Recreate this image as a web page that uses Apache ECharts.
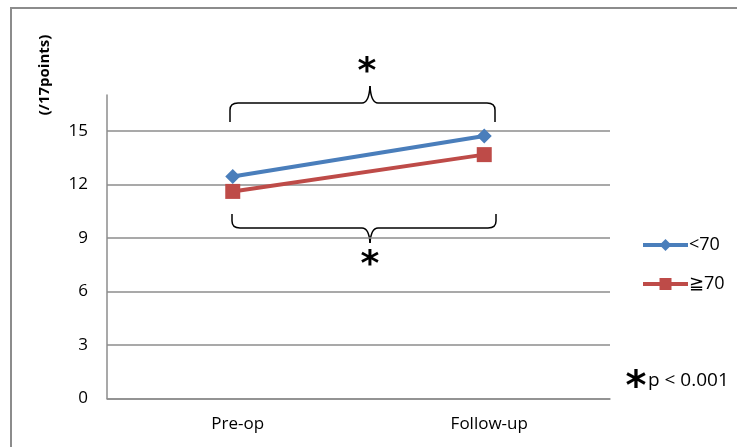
<!DOCTYPE html>
<html>
<head>
<meta charset="utf-8">
<script src="https://cdn.jsdelivr.net/npm/echarts@6/dist/echarts.min.js"></script>
<style>html,body{margin:0;padding:0;background:#fff}#c{width:737px;height:447px}</style>
</head>
<body>
<div id="c"></div>
<script>
var categories = ['Pre-op', 'Follow-up'];
var under70 = [12.43, 14.70];
var over70 = [11.6, 13.66];
var seriesNames = ['<70', '≧70'];
var yTicks = [0, 3, 6, 9, 12, 15];

var FONT = '"Open Sans", "Noto Sans", sans-serif';
var chart = echarts.init(document.getElementById('c'), null, {renderer: 'canvas'});

var gridLines = yTicks.map(function (v) { return {yAxis: v}; });

// curly brace: x1..x2 span, cx = tip x, yEnd = y of the ends, yMid = horizontal line, yTip = central point
function brace(x1, x2, cx, yEnd, yMid, yTip) {
  var st = {stroke: '#000', lineWidth: 1.5, fill: null};
  var d = yMid < yEnd ? 1 : -1;
  var els = [];
  els.push({type: 'line', shape: {x1: x1, y1: yEnd, x2: x1, y2: yMid + d * 7}, style: st});
  els.push({type: 'bezierCurve', shape: {x1: x1, y1: yMid + d * 7, cpx1: x1, cpy1: yMid, x2: x1 + 8, y2: yMid}, style: st});
  els.push({type: 'line', shape: {x1: x1 + 8, y1: yMid, x2: cx - 8, y2: yMid}, style: st});
  els.push({type: 'bezierCurve', shape: {x1: cx - 8, y1: yMid, cpx1: cx - 1, cpy1: yMid, x2: cx, y2: yTip}, style: st});
  els.push({type: 'bezierCurve', shape: {x1: cx, y1: yTip, cpx1: cx + 1, cpy1: yMid, x2: cx + 8, y2: yMid}, style: st});
  els.push({type: 'line', shape: {x1: cx + 8, y1: yMid, x2: x2 - 8, y2: yMid}, style: st});
  els.push({type: 'bezierCurve', shape: {x1: x2 - 8, y1: yMid, cpx1: x2, cpy1: yMid, x2: x2, y2: yMid + d * 7}, style: st});
  els.push({type: 'line', shape: {x1: x2, y1: yMid + d * 7, x2: x2, y2: yEnd}, style: st});
  return els;
}

var astStyle = {text: '*', fontFamily: '"DejaVu Sans"', fontSize: 36, fontWeight: 'bold', fill: '#000', align: 'center', verticalAlign: 'middle'};

var graphics = [
  {type: 'polyline', shape: {points: [[11, 447], [11, 8], [737, 8]]}, style: {stroke: '#8c8c8c', lineWidth: 2, fill: null}},
  {type: 'text', x: 45, y: 75, rotation: Math.PI / 2,
    style: {text: '(/17points)', fontFamily: FONT, fontSize: 15, fontWeight: 'bold', fill: '#000', align: 'center', verticalAlign: 'middle'}},
  {type: 'text', x: 367, y: 73, style: astStyle},
  {type: 'text', x: 370, y: 266, style: astStyle},
  {type: 'text', x: 636, y: 389, style: Object.assign({}, astStyle, {fontSize: 40})},
  {type: 'text', x: 648, y: 381, style: {text: 'p < 0.001', fontFamily: FONT, fontSize: 19, fill: '#000', align: 'left', verticalAlign: 'middle'}}
].concat(brace(230, 495, 370, 122, 103, 86), brace(232, 496, 370, 214, 228, 243));

chart.setOption({
  backgroundColor: '#fff',
  animation: false,
  grid: {left: 107, right: 127, top: 95, bottom: 48.5},
  legend: {
    orient: 'vertical', left: 636, top: 231, itemGap: 21,
    itemWidth: 45, itemHeight: 15,
    textStyle: {fontFamily: FONT, fontSize: 18, color: '#000', padding: [0, 0, 0, -4]},
    lineStyle: {width: 4},
    data: seriesNames
  },
  xAxis: {
    type: 'category', data: categories, boundaryGap: true,
    axisLine: {show: true, lineStyle: {color: '#8c8c8c', width: 1.5}},
    axisTick: {show: false},
    axisLabel: {fontFamily: FONT, fontSize: 17, color: '#000', margin: 17, padding: [0, 0, 0, 10]}
  },
  yAxis: {
    type: 'value', min: 0, max: 17, interval: 3,
    axisLine: {show: true, lineStyle: {color: '#8c8c8c', width: 1.5}},
    axisTick: {show: false},
    splitLine: {show: false},
    axisLabel: {
      fontFamily: FONT, fontSize: 17, color: '#000', margin: 19,
      formatter: function (v) { return yTicks.indexOf(v) >= 0 ? String(v) : ''; }
    }
  },
  series: [
    {
      name: seriesNames[0], type: 'line', data: under70,
      symbol: 'diamond', symbolSize: 15,
      lineStyle: {color: '#4a7ebb', width: 4},
      itemStyle: {color: '#4a7ebb'},
      z: 3,
      markLine: {
        silent: true, symbol: 'none', label: {show: false},
        lineStyle: {color: '#8c8c8c', width: 1.5, type: 'solid'},
        data: gridLines, z: 1
      }
    },
    {
      name: seriesNames[1], type: 'line', data: over70,
      symbol: 'rect', symbolSize: 15,
      lineStyle: {color: '#be4b48', width: 4},
      itemStyle: {color: '#be4b48'},
      z: 2
    }
  ],
  graphic: graphics
});
</script>
</body>
</html>
